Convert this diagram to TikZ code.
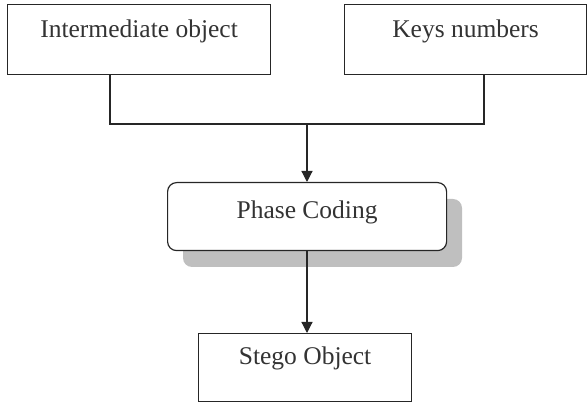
\documentclass[tikz,border=0pt]{standalone}
\usepackage{fontspec}
\setmainfont{Liberation Serif}
\usetikzlibrary{arrows.meta}
\begin{document}
\begin{tikzpicture}[x=1pt,y=-1pt,
  boxstyle/.style={draw=black!85, line width=1.2pt, inner sep=0pt, font=\fontsize{25.5}{28}\selectfont, text=black!80},
  link/.style={draw=black!85, line width=1.2pt},
  arrowlink/.style={link, -{Triangle[length=11pt,width=11pt]}}
]
\useasboundingbox (0,0) rectangle (587,403);
% input boxes
\node[boxstyle, minimum width=263pt, text height=33pt, text depth=37pt, anchor=north west] (inter) at (7,4) {Intermediate object};
\node[boxstyle, minimum width=242pt, text height=33pt, text depth=37pt, anchor=north west] (keys) at (344,4) {Keys numbers};
% processing step with drop shadow
\fill[black!25, rounded corners=9pt] (183,199) rectangle (462,267);
\node[boxstyle, fill=white, rounded corners=9pt, minimum width=279pt, text height=36pt, text depth=32pt, anchor=north west] (phase) at (167,182) {Phase Coding};
% output box
\node[boxstyle, minimum width=213pt, text height=31pt, text depth=37pt, anchor=north west] (stego) at (198,333) {Stego Object};
% merge the two inputs
\coordinate (ja) at (110,124);
\coordinate (jb) at (484,124);
\coordinate (jm) at (307,124);
\draw[link] (inter.south -| ja) -- (ja) -- (jb) -- (keys.south -| jb);
\draw[arrowlink] (jm) -- (phase.north -| jm);
\draw[arrowlink] (phase.south -| jm) -- (stego.north -| jm);
\end{tikzpicture}
\end{document}
